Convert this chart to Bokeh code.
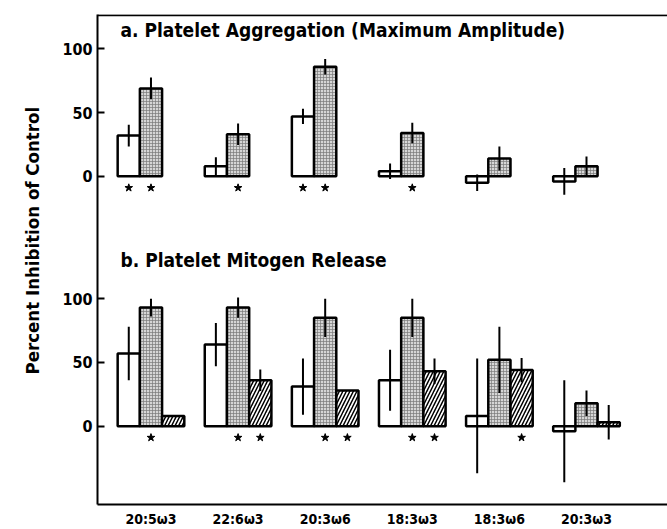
import numpy as np
from bokeh.plotting import figure
from bokeh.models import FixedTicker, Span, Label, Range1d, Title
from bokeh.embed import file_html
from bokeh.resources import INLINE

# Fatty acids tested
groups = ["20:5ω3", "22:6ω3", "20:3ω6", "18:3ω3", "18:3ω6", "20:3ω3"]

# a. Platelet aggregation (maximum amplitude), percent inhibition of control
agg_white = [32, 8, 47, 4, -5, -4]
agg_white_err = [8.5, 7, 6, 6, 6.5, 10.5]
agg_gray = [69, 33, 86, 34, 14, 8]
agg_gray_err = [8.5, 8.5, 6, 8, 9.5, 7.5]
agg_star_white = [1, 0, 1, 0, 0, 0]
agg_star_gray = [1, 1, 1, 1, 0, 0]

# b. Platelet mitogen release, percent inhibition of control
mit_white = [57, 64, 31, 36, 8, -4]
mit_white_err = [21, 17, 22, 24, 45, 40]
mit_gray = [93, 93, 85, 85, 52, 18]
mit_gray_err = [7, 8, 15, 15, 26, 10]
mit_hatch = [8, 36, 28, 43, 44, 3]
mit_hatch_err = [0, 8.5, 0, 10, 9.5, 13.5]
mit_star_white = [0, 0, 0, 0, 0, 0]
mit_star_gray = [1, 1, 1, 1, 0, 0]
mit_star_hatch = [0, 1, 1, 1, 1, 0]

y_ticks = [0, 50, 100]

# layout of the shared frame: panel a sits above panel b on one y scale
PANEL_A_BASE = 196.0
PANEL_B_BASE = 0.0
BAR_W = 0.255
STAR_OFFSET = -9
FONT = "DejaVu Sans Condensed"

p = figure(width=667, height=529, output_backend="svg", toolbar_location=None,
           x_range=Range1d(-0.614, 5.93), y_range=Range1d(-61.5, 323),
           min_border_left=97, min_border_right=0, min_border_top=14,
           min_border_bottom=21)
p.outline_line_color = None
p.grid.visible = False
p.background_fill_color = "white"
p.border_fill_color = "white"

idx = np.arange(len(groups), dtype=float)

white_style = dict(fill_color="white", line_color="black", line_width=2.5)
gray_style = dict(fill_color="#d6d6d6", line_color="black", line_width=2.5,
                  hatch_pattern="cross", hatch_scale=3, hatch_color="#7a7a7a",
                  hatch_weight=0.7)
hatch_style = dict(fill_color="white", line_color="black", line_width=2.5,
                   hatch_pattern="right_diagonal_line", hatch_scale=7,
                   hatch_color="black", hatch_weight=1.5)


def draw_series(slot, values, errs, stars, base, style):
    xs = idx + slot * BAR_W
    vals = np.asarray(values, dtype=float)
    e = np.asarray(errs, dtype=float)
    p.vbar(x=xs, width=BAR_W, bottom=base, top=vals + base, **style)
    keep = e > 0
    p.segment(x0=xs[keep], y0=(vals - e + base)[keep], x1=xs[keep],
              y1=(vals + e + base)[keep], line_color="black", line_width=2)
    sx = xs[np.asarray(stars) == 1]
    p.scatter(x=sx, y=np.full(len(sx), base + STAR_OFFSET), marker="star",
              size=8, fill_color="black", line_color="black")


# panel a: two bars per fatty acid
draw_series(-1, agg_white, agg_white_err, agg_star_white, PANEL_A_BASE, white_style)
draw_series(0, agg_gray, agg_gray_err, agg_star_gray, PANEL_A_BASE, gray_style)

# panel b: three bars per fatty acid
draw_series(-1, mit_white, mit_white_err, mit_star_white, PANEL_B_BASE, white_style)
draw_series(0, mit_gray, mit_gray_err, mit_star_gray, PANEL_B_BASE, gray_style)
draw_series(1, mit_hatch, mit_hatch_err, mit_star_hatch, PANEL_B_BASE, hatch_style)

# y axis: same tick values repeated for each panel
tick_pos = [t + PANEL_B_BASE for t in y_ticks] + [t + PANEL_A_BASE for t in y_ticks]
yaxis = p.yaxis[0]
yaxis.ticker = FixedTicker(ticks=tick_pos)
yaxis.major_label_overrides = {t + b: str(t) for b in (PANEL_A_BASE, PANEL_B_BASE)
                               for t in y_ticks}
yaxis.major_tick_in = 7
yaxis.major_tick_out = 0
yaxis.major_tick_line_width = 2
yaxis.minor_tick_line_color = None
yaxis.axis_line_width = 2
yaxis.major_label_standoff = 5
yaxis.major_label_text_font = FONT
yaxis.major_label_text_font_style = "bold"
yaxis.major_label_text_font_size = "16px"
yaxis.major_label_text_color = "black"

# x axis: fatty acid names under each group
xaxis = p.xaxis[0]
xaxis.ticker = FixedTicker(ticks=list(range(len(groups))))
xaxis.major_label_overrides = {i: g for i, g in enumerate(groups)}
xaxis.major_tick_in = 0
xaxis.major_tick_out = 0
xaxis.minor_tick_line_color = None
xaxis.axis_line_width = 2
xaxis.major_label_standoff = 6
xaxis.major_label_text_font = FONT
xaxis.major_label_text_font_style = "bold"
xaxis.major_label_text_font_size = "14px"
xaxis.major_label_text_color = "black"

# top edge of the frame
p.add_layout(Span(location=322.4, dimension="width", line_color="black", line_width=2))

# shared y-axis title, set a little above the frame's middle
p.add_layout(Title(text="Percent Inhibition of Control", align="left", offset=130,
                   standoff=30, vertical_align="top", text_font=FONT,
                   text_font_style="bold", text_font_size="18.5px",
                   text_color="black"), "left")

# panel titles
title_style = dict(text_font=FONT, text_font_style="bold", text_font_size="19px",
                   text_color="black", text_baseline="middle", text_align="left")
p.add_layout(Label(x=-0.35, y=310.5, text="a. Platelet Aggregation (Maximum Amplitude)",
                   **title_style))
p.add_layout(Label(x=-0.35, y=130.7, text="b. Platelet Mitogen Release", **title_style))

open("out.html", "w").write(file_html(p, INLINE))
